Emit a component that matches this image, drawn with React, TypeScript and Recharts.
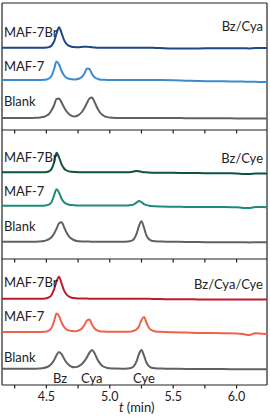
import { LineChart, Line, XAxis, YAxis, ReferenceLine } from 'recharts';

// retention time grid (min), denser around the peaks
const TIME = [
  4.15, 4.25, 4.35, 4.40, 4.44, 4.48, 4.50, 4.52, 4.54, 4.56,
  4.58, 4.60, 4.62, 4.64, 4.66, 4.68, 4.70, 4.72, 4.74, 4.76,
  4.78, 4.80, 4.82, 4.84, 4.86, 4.88, 4.90, 4.92, 4.94, 4.96,
  4.98, 5.00, 5.05, 5.10, 5.14, 5.17, 5.19, 5.21, 5.23, 5.25,
  5.27, 5.29, 5.31, 5.33, 5.36, 5.40, 5.50, 5.60, 5.70, 5.80,
  5.90, 6.00, 6.05, 6.10, 6.15, 6.20, 6.24,
];

// Bz/Cya
const CYA_BLANK = [
  0, 0, 0, 0.1, 0.3, 1.2, 2.2, 4, 7.5, 12.5,
  19, 19.5, 15.5, 10.5, 6.5, 3.8, 2.2, 1.6, 2, 3.5,
  6, 10, 15, 19.5, 20.5, 16, 10.5, 6, 3.2, 1.7,
  0.9, 0.5, 0.1, 0, 0, 0, 0, 0, 0, 0,
  0, 0, 0, 0, 0, 0, 0, -0.2, -0.3, -0.3,
  -0.3, -0.4, -0.4, -0.4, -0.4, -0.4, -0.4,
];
const CYA_MAF7 = [
  0, 0, 0, 0, 0, 0.2, 0.5, 1.5, 4, 10.5,
  18.5, 15.5, 9, 4.5, 2.2, 1.2, 0.7, 0.6, 0.8, 1.5,
  3, 6.5, 11.5, 11, 6, 2.8, 1.3, 0.6, 0.3, 0.2,
  0.1, 0, 0, 0, 0, 0, 0, 0, 0, 0,
  0, 0, 0, 0, 0, -0.1, -0.3, -0.7, -1, -1.2,
  -1.3, -1.5, -1.6, -1.8, -1.8, -2, -2,
];
const CYA_MAF7BR = [
  0, 0, 0, 0, 0, 0, 0.2, 0.6, 2, 6,
  14, 20.5, 14.5, 7.5, 3.5, 1.8, 1, 0.6, 0.4, 0.5,
  0.8, 1, 1, 0.7, 0.4, 0.2, 0, 0, 0, 0,
  0, 0, 0, 0, 0, 0, 0, 0, 0, 0,
  0, 0, 0, 0, -0.2, -0.4, -0.8, -0.8, -0.7, -0.6,
  -0.6, -0.5, -0.5, -0.7, -0.4, -0.4, -0.4,
];

// Bz/Cye
const CYE_BLANK = [
  0, 0, 0, 0, 0.2, 0.7, 1.3, 2.5, 4.5, 8,
  13, 18.5, 19.5, 14.5, 9, 5, 2.8, 1.5, 0.8, 0.5,
  0.3, 0.2, 0.1, 0.1, 0, 0, 0, 0, 0, 0,
  0, 0, 0, 0, 0.2, 0.8, 2.5, 7.5, 15.5, 20.5,
  14, 6, 2.5, 1, 0.4, 0.1, 0, -0.3, -0.4, -0.5,
  -0.5, -0.6, -0.6, -0.7, -0.6, -0.6, -0.6,
];
const CYE_MAF7 = [
  0, 0, 0, 0, 0, 0, 0.4, 1.2, 3.5, 10,
  16.5, 13, 7, 3.5, 1.8, 1, 0.6, 0.4, 0.3, 0.3,
  0.3, 0.2, 0.2, 0.2, 0.2, 0.2, 0.2, 0.2, 0.2, 0.2,
  0.2, 0.2, 0.2, 0.2, 0.3, 0.6, 1.4, 3, 4.7, 3.5,
  1.6, 0.6, 0, -0.3, -0.6, -0.8, -1, -1.2, -1.3, -1.4,
  -1.4, -1.5, -2.2, -2.4, -1.2, -1.3, -1.5,
];
const CYE_MAF7BR = [
  0, 0, 0, 0, 0, 0, 0.3, 1, 3, 9.5,
  19.5, 15, 8, 3.8, 1.8, 0.9, 0.5, 0.3, 0.2, 0.1,
  0.1, 0, 0, 0, 0, 0, 0, 0, 0, 0,
  0, 0, 0, 0, 0, 0.3, 0.8, 1.4, 1, 0.5,
  0.1, 0, -0.3, -0.4, -0.4, -0.5, -0.5, -0.7, -0.8, -0.9,
  -1, -1.1, -1.6, -1.8, -1.1, -1.2, -1.3,
];

// Bz/Cya/Cye
const ALL_BLANK = [
  0, 0, 0, 0, 0.2, 0.7, 1.4, 2.6, 4.8, 8.5,
  13.5, 16.7, 14.5, 10, 6, 3.5, 2, 1.5, 1.8, 2.8,
  4.6, 7.5, 11.5, 16, 18.7, 15.5, 10, 5.8, 3, 1.5,
  0.8, 0.4, 0.1, 0, 0.2, 0.8, 2.5, 7, 14.5, 18.7,
  13, 6, 2.5, 1, 0.4, 0.1, 0, -0.2, -0.3, -0.4,
  -0.4, -0.5, -0.5, -0.5, -0.5, -0.5, -0.5,
];
const ALL_MAF7 = [
  0, 0, 0, 0, 0, 0.2, 0.5, 1.5, 4, 10.5,
  18.5, 16, 9.5, 5, 2.5, 1.4, 0.9, 0.8, 1, 1.8,
  3.5, 7, 11.5, 12.5, 7.5, 3.5, 1.6, 0.8, 0.5, 0.4,
  0.3, 0.3, 0.2, 0.2, 0.3, 0.6, 1.2, 2.5, 5.5, 12,
  15, 9, 4, 1.8, 0.6, 0.2, -0.3, -0.6, -0.9, -1,
  -1.2, -1.4, -2, -3, -1.3, -1.8, -2,
];
const ALL_MAF7BR = [
  0, 0, 0, 0, 0, 0, 0.4, 1.3, 3.5, 9,
  17, 22, 15, 8, 4, 2, 1, 0.6, 0.3, 0.2,
  0.2, 0.1, 0.1, 0, 0, 0, 0, 0, 0, 0,
  0, 0, 0, 0, 0, 0, 0, 0, 0, 0,
  0, -0.1, -0.1, -0.2, -0.2, -0.3, -0.6, -0.6, -0.7, -0.7,
  -0.7, -0.8, -0.8, -0.8, -0.8, -0.8, -0.8,
];

const TRACE_NAMES = ['MAF-7Br', 'MAF-7', 'Blank'];
const MIXTURES = ['Bz/Cya', 'Bz/Cye', 'Bz/Cya/Cye'];
const PEAK_NAMES = ['Bz', 'Cya', 'Cye'];
const TICKS = [4.25, 4.5, 4.75, 5.0, 5.25, 5.5, 5.75, 6.0];
const TICK_LABELS = [4.5, 5.0, 5.5, 6.0];
const T_MIN = 4.15;
const T_MAX = 6.24;
const TICK_LEN = 3.5; // y units are 1px per unit

const FONT = 'Lato, "Open Sans", sans-serif';
const INK = '#222';
const GREY = '#616161';

type Trace = { key: string; values: number[]; offset: number; color: string };

function TimeLabel(props: any) {
  const { x, y, payload } = props;
  const v = payload.value as number;
  if (!TICK_LABELS.includes(v)) return <g />;
  return (
    <text x={x} y={y + 16} textAnchor="middle" fill={INK} fontSize={12.5} fontFamily={FONT}>
      {v.toFixed(1)}
    </text>
  );
}

function Panel(props: {
  top: number;
  height: number;
  marginTop: number;
  axisHeight: number;
  traces: Trace[];
  topTicks?: boolean;
  labels?: boolean;
}) {
  const { top, height, marginTop, axisHeight, traces, topTicks, labels } = props;
  const plotH = height - marginTop - axisHeight;
  const rows = TIME.map((t, i) => {
    const r: Record<string, number> = { t };
    traces.forEach((s) => {
      r[s.key] = s.values[i] + s.offset;
    });
    return r;
  });

  return (
    <div style={{ position: 'absolute', left: 0, top }}>
      <LineChart
        width={270}
        height={height}
        data={rows}
        margin={{ top: marginTop, right: 3, bottom: 0, left: 2 }}
      >
        <XAxis
          dataKey="t"
          type="number"
          domain={[T_MIN, T_MAX]}
          allowDataOverflow
          ticks={TICKS}
          height={axisHeight}
          hide={!labels}
          axisLine={false}
          tickLine={false}
          tickSize={0}
          tickMargin={0}
          interval={0}
          tick={<TimeLabel />}
        />
        <YAxis type="number" domain={[0, plotH]} allowDataOverflow hide />
        {/* frame */}
        <ReferenceLine y={0} stroke={INK} strokeWidth={1.2} ifOverflow="visible" />
        <ReferenceLine y={plotH} stroke={INK} strokeWidth={1.2} ifOverflow="visible" />
        <ReferenceLine x={T_MIN} stroke={INK} strokeWidth={1.2} ifOverflow="visible" />
        <ReferenceLine x={T_MAX} stroke={INK} strokeWidth={1.2} ifOverflow="visible" />
        {/* tick marks hanging below the panel above */}
        {topTicks &&
          TICKS.map((t) => (
            <ReferenceLine
              key={`tt${t}`}
              segment={[
                { x: t, y: plotH },
                { x: t, y: plotH - TICK_LEN },
              ]}
              stroke={INK}
              strokeWidth={1.2}
              ifOverflow="visible"
            />
          ))}
        {labels &&
          TICKS.map((t) => (
            <ReferenceLine
              key={`bt${t}`}
              segment={[
                { x: t, y: 0 },
                { x: t, y: -TICK_LEN },
              ]}
              stroke={INK}
              strokeWidth={1.2}
              ifOverflow="visible"
            />
          ))}
        {traces.map((s) => (
          <Line
            key={s.key}
            dataKey={s.key}
            type="monotone"
            stroke={s.color}
            strokeWidth={2}
            dot={false}
            isAnimationActive={false}
          />
        ))}
      </LineChart>
    </div>
  );
}

export default function App() {
  // text centre rows for the trace labels in each panel
  const nameRows = [
    [32.7, 66, 101.7],
    [157.7, 191.7, 226.7],
    [282.7, 316.7, 357.3],
  ];
  const mixRows = [26, 158.3, 284];
  const peakX = [60, 91.7, 144];

  return (
    <div style={{ position: 'absolute', left: 0, top: 0, width: 270, height: 417, background: '#fff' }}>
      <Panel
        top={0}
        height={130}
        marginTop={3}
        axisHeight={0}
        traces={[
          { key: 'br', values: CYA_MAF7BR, offset: 82.3, color: '#1d4787' },
          { key: 'm7', values: CYA_MAF7, offset: 50, color: '#3a8bd0' },
          { key: 'bl', values: CYA_BLANK, offset: 12, color: GREY },
        ]}
      />
      <Panel
        top={130}
        height={129}
        marginTop={0}
        axisHeight={0}
        topTicks
        traces={[
          { key: 'br', values: CYE_MAF7BR, offset: 86.7, color: '#0e5242' },
          { key: 'm7', values: CYE_MAF7, offset: 53.3, color: '#1f8a7a' },
          { key: 'bl', values: CYE_BLANK, offset: 17.3, color: GREY },
        ]}
      />
      <Panel
        top={259}
        height={158}
        marginTop={0}
        axisHeight={32}
        topTicks
        labels
        traces={[
          { key: 'br', values: ALL_MAF7BR, offset: 86.3, color: '#c01b2c' },
          { key: 'm7', values: ALL_MAF7, offset: 53, color: '#ee614b' },
          { key: 'bl', values: ALL_BLANK, offset: 16.3, color: GREY },
        ]}
      />
      <svg
        width={270}
        height={417}
        style={{ position: 'absolute', left: 0, top: 0, pointerEvents: 'none' }}
        fontFamily={FONT}
        fontSize={13}
        fill={INK}
      >
        {nameRows.map((rowYs, p) =>
          rowYs.map((cy, i) => (
            <text key={`n${p}${i}`} x={4} y={cy + 4.7}>
              {TRACE_NAMES[i]}
            </text>
          ))
        )}
        {MIXTURES.map((m, p) => (
          <text key={m} x={263} y={mixRows[p] + 4.7} textAnchor="end">
            {m}
          </text>
        ))}
        {PEAK_NAMES.map((n, i) => (
          <text key={n} x={peakX[i]} y={378.3 + 4.7} textAnchor="middle">
            {n}
          </text>
        ))}
        <text x={136.7} y={411.5} textAnchor="middle" fontSize={13}>
          <tspan fontStyle="italic">t</tspan> (min)
        </text>
      </svg>
    </div>
  );
}
